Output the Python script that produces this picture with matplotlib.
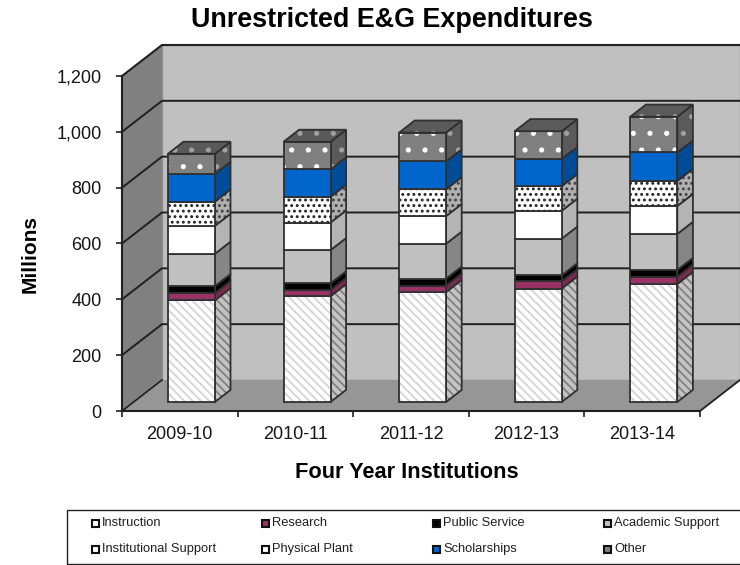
import matplotlib
matplotlib.use('Agg')
import matplotlib.pyplot as plt
from matplotlib.patches import Polygon, Rectangle

plt.rcParams['font.family'] = ['Liberation Sans', 'DejaVu Sans']
plt.rcParams['hatch.linewidth'] = 1.3

# Data (millions)
years = ['2009-10', '2010-11', '2011-12', '2012-13', '2013-14']
instruction = [364, 379, 394, 406, 423]
research = [26, 22, 23, 26, 26]
public_service = [25, 24, 25, 22, 24]
academic_support = [116, 119, 125, 131, 129]
institutional_support = [100, 99, 99, 100, 100]
physical_plant = [87, 92, 96, 88, 90]
scholarships = [99, 98, 100, 98, 102]
other = [72, 99, 103, 99, 128]

series = [instruction, research, public_service, academic_support,
          institutional_support, physical_plant, scholarships, other]
names = ['Instruction', 'Research', 'Public Service', 'Academic Support',
         'Institutional Support', 'Physical Plant', 'Scholarships', 'Other']

# front face, side face, top face, hatch colour, side hatch colour, hatch
styles = [
    ('white', '#c4c4c4', '#c4c4c4', '#d4d4d4', '#808080', '\\\\\\\\'),
    ('#993366', '#7a2950', '#7a2950', None, None, None),
    ('black', 'black', 'black', None, None, None),
    ('#c0c0c0', '#868686', '#868686', None, None, None),
    ('white', '#b4b4b4', '#b4b4b4', None, None, None),
    ('white', '#b0b0b0', '#b0b0b0', '#202020', '#404040', '...'),
    ('#0066cc', '#004c99', '#004c99', None, None, None),
    ('#808080', '#5a5a5a', '#5a5a5a', 'white', '#a0a0a0', '.'),
]

fig = plt.figure(figsize=(7.40, 5.65), dpi=100)
W, H = 740, 565
# front plane of the 3D box: 122..700 px wide, y 411..76 px
ax = fig.add_axes([122 / W, 1 - 411 / H, 578 / W, 335 / H])
ax.set_xlim(0, 5)
ax.set_ylim(0, 1200)
ax.patch.set_visible(False)

# depth of the box, in data units
DX = 40 / 115.6
DY = 31 / 0.279


def pt(x, y, d=0.0):
    return (x + d * DX, y + d * DY)


def face(pts, fc, ec='#303030', lw=1.3, hatch=None, hc=None, z=2):
    if hatch:
        ax.add_patch(Polygon(pts, closed=True, fc=fc, ec=hc, hatch=hatch, lw=0,
                             clip_on=False, zorder=z))
        fc = 'none'
    ax.add_patch(Polygon(pts, closed=True, fc=fc, ec=ec, lw=lw, clip_on=False,
                         zorder=z + 0.01))


# walls and floor
face([pt(0, 0, 1), pt(5, 0, 1), pt(5, 1200, 1), pt(0, 1200, 1)], '#c0c0c0',
     ec='#909090', lw=1, z=0)
face([pt(0, 0), pt(0, 0, 1), pt(0, 1200, 1), pt(0, 1200)], '#808080',
     ec='none', lw=0, z=0.1)
face([pt(0, 0), pt(5, 0), pt(5, 0, 1), pt(0, 0, 1)], '#969696', ec='none', lw=0,
     z=0.1)
ax.plot(*zip(pt(0, 1200), pt(0, 1200, 1), pt(5, 1200, 1)), color='#202020', lw=1.5,
        clip_on=False, zorder=0.5)
ax.plot(*zip(pt(5, 0), pt(5, 0, 1)), color='#202020', lw=1.3, clip_on=False,
        zorder=0.5)

# gridlines run along the side wall and the back wall
for v in range(200, 1200, 200):
    ax.plot(*zip(pt(0, v), pt(0, v, 1), pt(5, v, 1)), color='#202020', lw=1.4,
            clip_on=False, zorder=0.4)
ax.plot(*zip(pt(0, 0), pt(0, 0, 1)), color='#202020', lw=1.2, clip_on=False,
        zorder=0.4)

# bars
bar_w = 47 / 115.6
d0, d1 = 0.29, 0.68
for i in range(len(years)):
    x0 = i + 0.5 - bar_w / 2
    x1 = x0 + bar_w
    base = 0
    for s, vals in enumerate(series):
        top = base + vals[i]
        fc, side, lid, hc, shc, hatch = styles[s]
        z = 2 + s * 0.1
        # bar sits d0 back from the front plane
        face([pt(x1, base, d0), pt(x1, top, d0), pt(x1, top, d1), pt(x1, base, d1)],
             side, hatch=hatch, hc=shc, z=z)
        face([pt(x0, base, d0), pt(x1, base, d0), pt(x1, top, d0), pt(x0, top, d0)],
             fc, hatch=hatch, hc=hc, z=z + 0.02)
        if s == len(series) - 1:
            face([pt(x0, top, d0), pt(x1, top, d0), pt(x1, top, d1), pt(x0, top, d1)],
                 lid, hatch=hatch, hc=shc, z=z + 0.04)
        base = top

# axes, ticks, labels
for side in ['top', 'right']:
    ax.spines[side].set_visible(False)
for side in ['left', 'bottom']:
    ax.spines[side].set_color('#202020')
    ax.spines[side].set_linewidth(1.5)
    ax.spines[side].set_zorder(1)
ax.set_yticks(range(0, 1400, 200))
ax.set_yticklabels(['0', '200', '400', '600', '800', '1,000', '1,200'], fontsize=13,
                   color='#151515')
ax.set_xticks(range(6))
ax.set_xticklabels([])
ax.set_xticks([i + 0.5 for i in range(5)], minor=True)
ax.set_xticklabels(years, minor=True, fontsize=13, color='#151515')
ax.tick_params(axis='x', which='minor', length=0, pad=11)
ax.tick_params(axis='x', which='major', length=4, width=1.2, color='#202020')
ax.tick_params(axis='y', length=4.3, width=1.2, color='#202020', pad=10.5)

fig.text(392 / W, 1 - 20 / H, 'Unrestricted E&G Expenditures', fontsize=19.4,
         fontweight='bold', ha='center', va='center')
fig.text(30 / W, 1 - 254 / H, 'Millions', fontsize=15, fontweight='bold',
         rotation=90, ha='center', va='center')
fig.text(407 / W, 1 - 472 / H, 'Four Year Institutions', fontsize=15.7,
         fontweight='bold', ha='center', va='center')

# legend box runs off the right edge, laid out by hand to keep the even columns
fig.add_artist(Rectangle((67 / W, 1 - 564 / H), 690 / W, 54 / H, fc='white',
                         ec='#202020', lw=1, transform=fig.transFigure))
col_x = [92, 262, 433, 604]
row_y = [523, 549]
for n, name in enumerate(names):
    x = col_x[n % 4]
    y = row_y[n // 4]
    fig.add_artist(Rectangle((x / W, 1 - (y + 3.5) / H), 6.5 / W, 6.5 / H,
                             fc=styles[n][0], ec='#101010', lw=1.5,
                             transform=fig.transFigure))
    fig.text((x + 10) / W, 1 - y / H, name, fontsize=9.3, ha='left', va='center',
             color='#202020')

fig.savefig('out.png', dpi=100)
